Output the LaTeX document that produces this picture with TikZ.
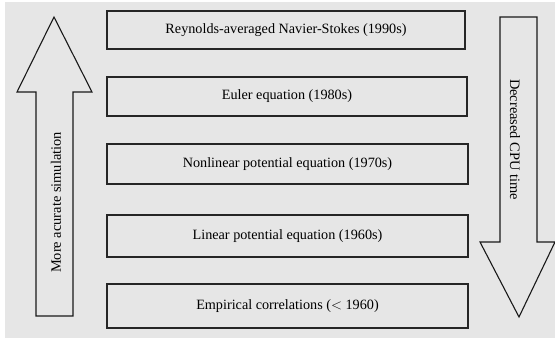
\documentclass[tikz,border=0pt]{standalone}
\usepackage{fontspec}
\setmainfont{Liberation Serif}
\begin{document}
\begin{tikzpicture}[x=1pt,y=-1pt,
  era/.style={draw=black!85,line width=1.3pt,fill=bggray,inner sep=0pt,font=\fontsize{14.2}{16}\selectfont},
  bigarrow/.style={draw=black!90,line width=1.1pt,fill=bggray,line join=miter},
  lbl/.style={font=\fontsize{14.4}{16}\selectfont,inner sep=0pt}]
\definecolor{bggray}{HTML}{E6E6E6}
\useasboundingbox (0,0) rectangle (555,341);
\fill[white] (0,0) rectangle (555,341);
\fill[bggray] (5,2) rectangle (555,338);
% boxes
\node[era,minimum width=358pt,minimum height=38pt] (b1) at (286,30) {Reynolds-averaged Navier-Stokes (1990s)};
\node[era,minimum width=360pt,minimum height=39pt] (b2) at (287,96.5) {Euler equation (1980s)};
\node[era,minimum width=361pt,minimum height=40pt] (b3) at (287.5,164) {Nonlinear potential equation (1970s)};
\node[era,minimum width=361pt,minimum height=42pt] (b4) at (287.5,236) {Linear potential equation (1960s)};
\node[era,minimum width=361pt,minimum height=44pt] (b5) at (287.5,306) {Empirical correlations ($<$ 1960)};
% up arrow
\draw[bigarrow] (54,17) -- (92,92) -- (73,92) -- (73,316) -- (36,316) -- (36,92) -- (17,92) -- cycle;
\node[lbl,rotate=90] (up) at (56,202.5) {More acurate simulation};
% down arrow
\draw[bigarrow] (500,17) -- (537,17) -- (537,242) -- (555,242) -- (519,317) -- (480,242) -- (500,242) -- cycle;
\node[lbl,rotate=-90] (down) at (515,139.5) {Decreased CPU time};
\end{tikzpicture}
\end{document}
